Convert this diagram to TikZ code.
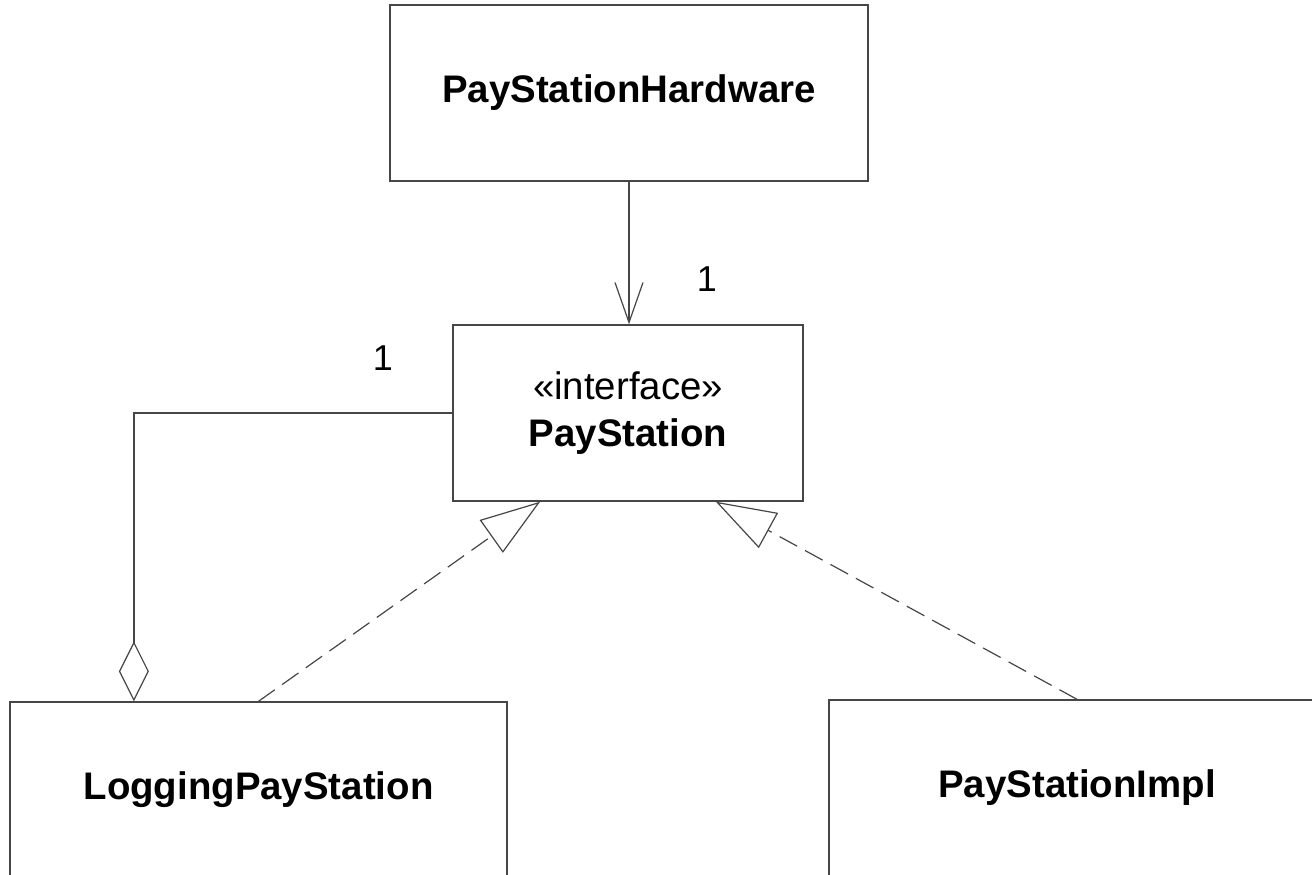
\documentclass[tikz,border=0pt]{standalone}
\usepackage{fontspec}
\setmainfont{Liberation Sans}
\usepackage{tikz}
\usetikzlibrary{arrows.meta,positioning,calc}
\definecolor{umlgray}{RGB}{70, 70, 70}

\begin{document}
\begin{tikzpicture}[x=0.5pt,y=-0.5pt,
    classbox/.style={draw=umlgray,line width=0.7pt,minimum width=#1,minimum height=88pt,
        inner sep=0pt,align=center,font=\fontsize{19.2}{23.5}\selectfont},
    classbox/.default=175pt,
    mult/.style={font=\fontsize{18}{20}\selectfont,inner sep=0pt},
    navig/.style={draw=umlgray,line width=0.6pt,-{Straight Barb[length=20pt,width=14pt]}},
    aggr/.style={draw=umlgray,line width=0.6pt,{Diamond[open,length=30pt,width=15pt]}-},
    realize/.style={draw=umlgray,line width=0.6pt,dash pattern=on 10pt off 4.5pt,
        -{Triangle[open,length=30pt,width=20pt]}}]
    % page = 1312 x 874 px, lower boxes run off the bottom edge
    \useasboundingbox (0,0) rectangle (1312,874);
    \clip (0,0) rectangle (1312,874);

    % Classes
    \node[classbox=239pt] (hw) at (629,93) {\textbf{PayStationHardware}};
    \node[classbox=175pt] (ps) at (628,413) {«interface»\\\textbf{PayStation}};
    \node[classbox=248.5pt] (log) at (258.5,790) {\textbf{LoggingPayStation}};
    \node[classbox=248pt] (impl) at (1077,788) {\textbf{PayStationImpl}};

    % Multiplicities
    \node[mult] (m1) at (707,279) {1};
    \node[mult] (m2) at (383,358) {1};

    % Navigable association
    \draw[navig] (hw.south) -- (hw.south |- ps.north);

    % Aggregation (decorator side)
    \coordinate (aggtop) at ($(log.north west)!0.25!(log.north east)$);
    \draw[aggr] (aggtop) |- (ps.west);

    % Realizations
    \coordinate (psleft) at ($(ps.south west)!0.25!(ps.south east)$);
    \coordinate (psright) at ($(ps.south west)!0.75!(ps.south east)$);
    \draw[realize] (log.north) -- (psleft);
    \draw[realize] (impl.north) -- (psright);
\end{tikzpicture}
\end{document}
